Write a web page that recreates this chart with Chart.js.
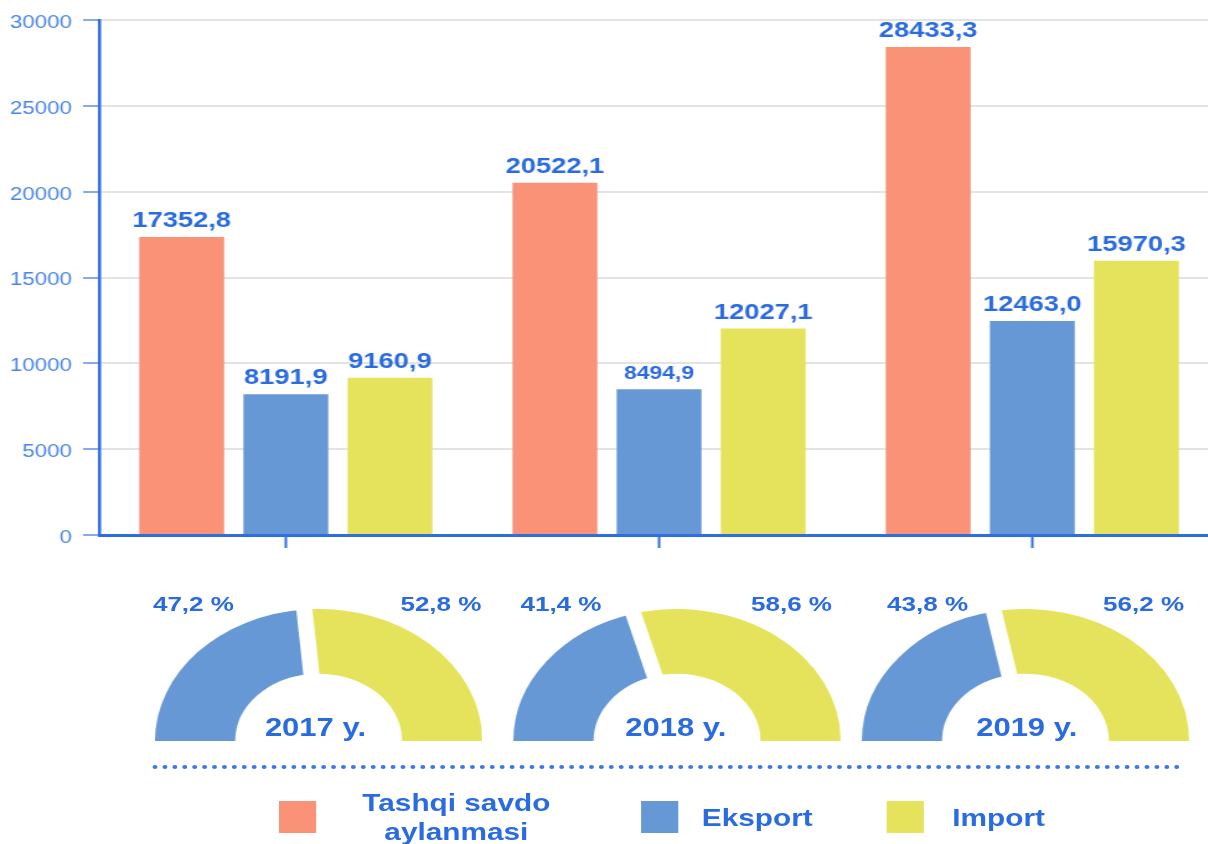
<!DOCTYPE html>
<html>
<head>
<meta charset="utf-8">
<script src="https://cdn.jsdelivr.net/npm/chart.js@4.4.1/dist/chart.umd.min.js"></script>
<style>
  html, body { margin: 0; padding: 0; background: #fff; overflow: hidden; width: 1208px; height: 844px; }
  /* the reference is stretched sideways, so the whole page is drawn narrow and widened */
  #page { position: absolute; left: 0; top: 0; width: 975px; height: 844px;
          transform-origin: 0 0; transform: scaleX(1.24);
          font-family: 'Liberation Sans', Arial, sans-serif; color: #2a6be0; }
  #bars { position: absolute; left: 0; top: 0; }
  .half { position: absolute; top: 609px; }
  .txt { position: absolute; font-weight: bold; line-height: 1; white-space: nowrap; transform: translateX(-50%); }
  .pct { top: 593px; font-size: 21px; }
  .year { top: 715px; font-size: 25px; }
  #dots { position: absolute; left: 123px; top: 765px; width: 829px; border-top: 4px dotted #3b78e2; }
  .sq { position: absolute; top: 801px; width: 30px; height: 32px; }
  .leg { position: absolute; font-size: 24px; font-weight: bold; }
</style>
</head>
<body>
<div id="page">
  <canvas id="bars" width="985" height="560"></canvas>
  <div id="dots"></div>
  <div class="sq" style="left:225px;background:#f99276"></div>
  <div class="leg" id="leg0" style="left:368px;top:788px;line-height:29px;text-align:center;transform:translateX(-50%)"></div>
  <div class="sq" style="left:517px;background:#6798d6"></div>
  <div class="leg" id="leg1" style="left:566px;top:806px;line-height:1"></div>
  <div class="sq" style="left:715px;background:#e5e35c"></div>
  <div class="leg" id="leg2" style="left:768px;top:806px;line-height:1"></div>
</div>
<script>
const years = ['2017', '2018', '2019'];
const yearLabels = ['2017 y.', '2018 y.', '2019 y.'];
const turnover = [17352.8, 20522.1, 28433.3];
const exportsVal = [8191.9, 8494.9, 12463.0];
const importsVal = [9160.9, 12027.1, 15970.3];
const exportShare = [47.2, 41.4, 43.8];
const importShare = [52.8, 58.6, 56.2];
const yTicks = [0, 5000, 10000, 15000, 20000, 25000, 30000];
const seriesNames = ['Tashqi savdo aylanmasi', 'Eksport', 'Import'];

const ORANGE = '#f99276', BLUE = '#6798d6', YELLOW = '#e5e35c';
const TEXT = '#2a6be0', AXIS = '#2f6ee0', TICK = '#4a84ea';
const FONT = "'Liberation Sans', Arial, sans-serif";

const comma = v => v.toFixed(1).replace('.', ',');

// value labels above each bar
const barLabels = {
    id: 'barLabels',
    afterDatasetsDraw(chart) {
        const ctx = chart.ctx;
        ctx.save();
        ctx.fillStyle = TEXT;
        ctx.textAlign = 'center';
        ctx.textBaseline = 'alphabetic';
        chart.data.datasets.forEach((ds, i) => {
            chart.getDatasetMeta(i).data.forEach((bar, j) => {
                const small = i === 1 && j === 1;
                ctx.font = 'bold ' + (small ? 18.5 : 22) + 'px ' + FONT;
                ctx.fillText(comma(ds.data[j]), bar.x, bar.y - 10);
            });
        });
        ctx.restore();
    }
};

new Chart(document.getElementById('bars'), {
    type: 'bar',
    data: {
        labels: years,
        datasets: [
            { label: seriesNames[0], data: turnover, backgroundColor: ORANGE },
            { label: seriesNames[1], data: exportsVal, backgroundColor: BLUE },
            { label: seriesNames[2], data: importsVal, backgroundColor: YELLOW }
        ]
    },
    options: {
        responsive: false, animation: false,
        datasets: { bar: { categoryPercentage: 0.837, barPercentage: 0.815 } },
        layout: { padding: { top: 20, right: 2, left: 0, bottom: 0 } },
        plugins: { legend: { display: false }, tooltip: { enabled: false } },
        scales: {
            x: {
                ticks: { display: false },
                grid: { offset: false, drawOnChartArea: false, tickLength: 13, tickWidth: 2, tickColor: AXIS },
                border: { color: AXIS, width: 3 },
                afterFit: s => { s.height = 25; }
            },
            y: {
                min: 0, max: 30000,
                afterBuildTicks: s => { s.ticks = yTicks.map(v => ({ value: v })); },
                ticks: { color: TICK, font: { family: FONT, size: 18 }, padding: 9, labelOffset: 3, callback: v => String(v) },
                grid: { color: '#e3e3e3', lineWidth: 2, tickLength: 13, tickWidth: 2, tickColor: '#86aaf0' },
                border: { color: AXIS, width: 2.5 },
                afterFit: s => { s.width = 80; }
            }
        }
    },
    plugins: [barLabels]
});

// white cut between the two halves of each gauge
const arcGap = {
    id: 'arcGap',
    afterDatasetsDraw(chart) {
        const ctx = chart.ctx;
        ctx.save();
        ctx.strokeStyle = '#fff';
        ctx.lineWidth = 13;
        chart.getDatasetMeta(0).data.slice(1).forEach(a => {
            const c = Math.cos(a.startAngle), s = Math.sin(a.startAngle);
            ctx.beginPath();
            ctx.moveTo(a.x + c * (a.innerRadius - 2), a.y + s * (a.innerRadius - 2));
            ctx.lineTo(a.x + c * (a.outerRadius + 2), a.y + s * (a.outerRadius + 2));
            ctx.stroke();
        });
        ctx.restore();
    }
};

const page = document.getElementById('page');
const gaugeX = [257, 545.6, 826.6];
const pctLeftX = [156, 452.4, 748];
const pctRightX = [355.6, 638.3, 922.2];
const yearX = [254.4, 545, 828];

function addText(cls, x, text) {
    const d = document.createElement('div');
    d.className = 'txt ' + cls;
    d.style.left = x + 'px';
    d.textContent = text;
    page.appendChild(d);
}

years.forEach((y, i) => {
    const cv = document.createElement('canvas');
    cv.className = 'half';
    cv.width = 264; cv.height = 132;
    cv.style.left = (gaugeX[i] - 132) + 'px';
    page.appendChild(cv);
    new Chart(cv, {
        type: 'doughnut',
        data: {
            labels: [seriesNames[1], seriesNames[2]],
            datasets: [{ data: [exportShare[i], importShare[i]], backgroundColor: [BLUE, YELLOW], borderWidth: 0 }]
        },
        options: {
            responsive: false, animation: false,
            rotation: -90, circumference: 180, cutout: '51%',
            plugins: { legend: { display: false }, tooltip: { enabled: false } }
        },
        plugins: [arcGap]
    });
    addText('pct', pctLeftX[i], comma(exportShare[i]) + ' %');
    addText('pct', pctRightX[i], comma(importShare[i]) + ' %');
    addText('year', yearX[i], yearLabels[i]);
});

document.getElementById('leg0').innerHTML = 'Tashqi savdo<br>aylanmasi';
document.getElementById('leg1').textContent = seriesNames[1];
document.getElementById('leg2').textContent = seriesNames[2];
</script>
</body>
</html>
